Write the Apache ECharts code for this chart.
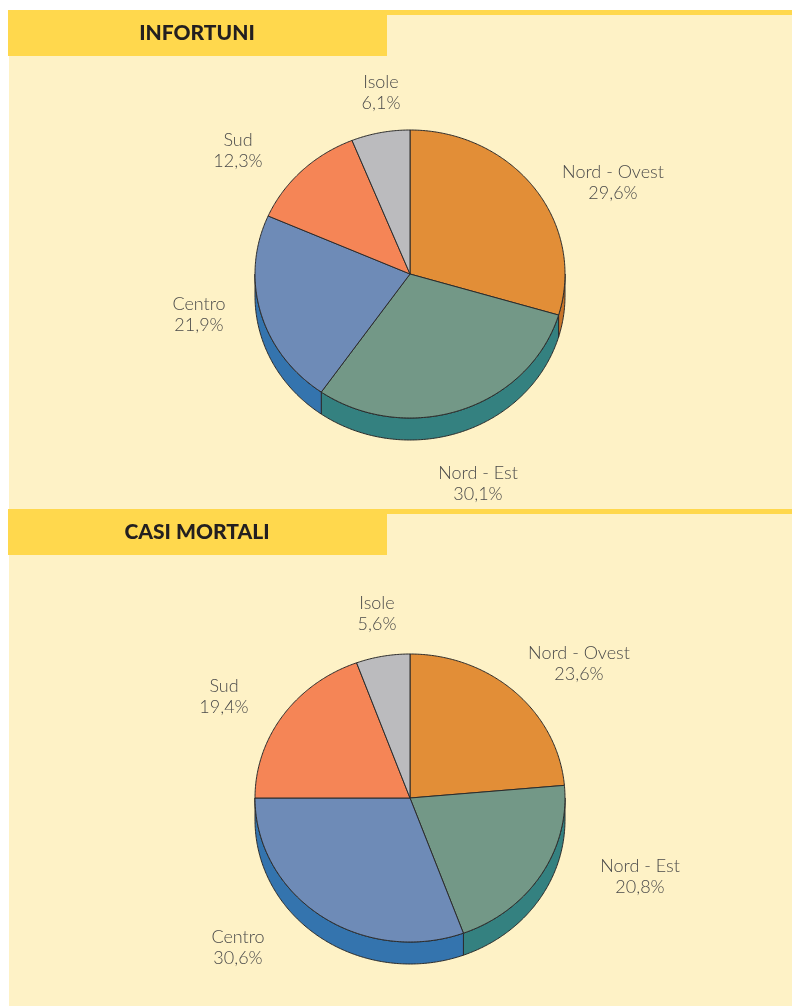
<!DOCTYPE html>
<html>
<head>
<meta charset="utf-8">
<script src="https://cdn.jsdelivr.net/npm/echarts@6/dist/echarts.min.js"></script>
<style>
  html, body { margin: 0; padding: 0; background: #ffffff; }
  #chart { width: 792px; height: 1007px; }
</style>
</head>
<body>
<div id="chart"></div>
<script>
// dati
const regioni = ['Nord - Ovest', 'Nord - Est', 'Centro', 'Sud', 'Isole'];
const infortuni = [29.6, 30.1, 21.9, 12.3, 6.1];
const casiMortali = [23.6, 20.8, 30.6, 19.4, 5.6];
const titoli = ['INFORTUNI', 'CASI MORTALI'];

// colori facce superiori e laterali
const coloriTop = ['#E28E37', '#739887', '#6E8BB7', '#F58556', '#BBBBBE'];
const coloriLato = ['#C87429', '#348180', '#3474AE', '#D0623A', '#9A9A9E'];

// posizioni delle etichette (layout)
const etichetteTop = [[613, 183], [478, 484], [199, 315], [238, 151], [381, 93]];
const etichetteBottom = [[579, 664], [640, 877], [238, 948], [224, 697], [377, 614]];

const RX = 155, RY = 144, DEPTH = 22;

function arcPoints(cx, cy, a0, a1, dy) {
    let pts = [];
    let n = Math.max(2, Math.ceil((a1 - a0) / 0.01));
    for (let i = 0; i <= n; i++) {
        let a = a0 + (a1 - a0) * i / n;
        pts.push([cx + RX * Math.sin(a), cy - RY * Math.cos(a) + dy]);
    }
    return pts;
}

function pieSeries(valori, cx, cy, etichette) {
    let tot = valori.reduce((s, v) => s + v, 0);
    let cum = 0;
    let data = valori.map((v, i) => {
        let d = [v, cum, i];
        cum += v;
        return d;
    });
    return {
        type: 'custom',
        coordinateSystem: 'none',
        data: data,
        renderItem: function (params, api) {
            let v = api.value(0), start = api.value(1), i = api.value(2);
            let a0 = start / tot * Math.PI * 2;
            let a1 = (start + v) / tot * Math.PI * 2;
            let children = [];
            // lato visibile (metà inferiore)
            let s0 = Math.max(a0, Math.PI / 2), s1 = Math.min(a1, Math.PI * 1.5);
            if (s1 > s0) {
                let top = arcPoints(cx, cy, s0, s1, 0);
                let bot = arcPoints(cx, cy, s0, s1, DEPTH).reverse();
                children.push({
                    type: 'polygon',
                    shape: { points: top.concat(bot) },
                    style: { fill: coloriLato[i], stroke: '#2b2b2b', lineWidth: 1 }
                });
            }
            // faccia superiore
            let pts = [[cx, cy]].concat(arcPoints(cx, cy, a0, a1, 0));
            children.push({
                type: 'polygon',
                shape: { points: pts },
                style: { fill: coloriTop[i], stroke: '#2b2b2b', lineWidth: 1 }
            });
            // etichetta
            let p = etichette[i];
            children.push({
                type: 'text',
                x: p[0], y: p[1],
                style: {
                    text: regioni[i] + '\n' + v.toFixed(1).replace('.', ',') + '%',
                    fill: '#4a4a4a',
                    font: '300 18px Lato, "Noto Sans", sans-serif',
                    align: 'center',
                    verticalAlign: 'middle',
                    lineHeight: 21
                }
            });
            return { type: 'group', children: children };
        }
    };
}

let chart = echarts.init(document.getElementById('chart'));

function header(y, testo) {
    return [
        { type: 'rect', shape: { x: 8, y: y, width: 784, height: 5 }, style: { fill: '#FFD84D' } },
        { type: 'rect', shape: { x: 8, y: y, width: 379, height: 46 }, style: { fill: '#FFD84D' } },
        {
            type: 'text', x: 197, y: y + 23,
            style: {
                text: testo, fill: '#231f20',
                font: '900 21px Lato, "DejaVu Sans", sans-serif',
                align: 'center', verticalAlign: 'middle'
            }
        }
    ];
}

chart.setOption({
    animation: false,
    backgroundColor: '#ffffff',
    graphic: [
        { type: 'rect', z: -10, shape: { x: 9, y: 10, width: 783, height: 996 }, style: { fill: '#FEF2C6' } }
    ].concat(header(10, titoli[0]), header(509, titoli[1])),
    series: [
        pieSeries(infortuni, 410, 274, etichetteTop),
        pieSeries(casiMortali, 410, 798, etichetteBottom)
    ]
});
</script>
</body>
</html>
